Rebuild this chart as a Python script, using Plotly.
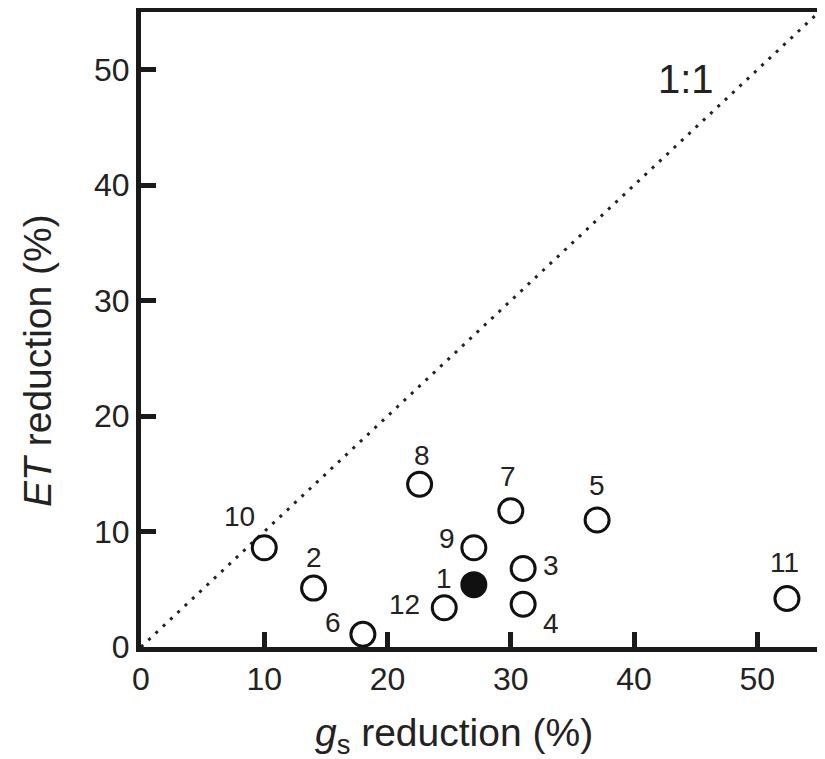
import plotly.graph_objects as go

# ---- data ----
site_ids = ["1", "2", "3", "4", "5", "6", "7", "8", "9", "10", "11", "12"]
gs_reduction = [27.0, 14.0, 31.0, 31.0, 37.0, 18.0, 30.0, 22.6, 27.0, 10.0, 52.4, 24.6]
et_reduction = [5.4, 5.1, 6.8, 3.7, 11.0, 1.1, 11.8, 14.1, 8.6, 8.6, 4.2, 3.4]
filled_sites = ["1"]
one_to_one = [0, 55]
x_ticks = [0, 10, 20, 30, 40, 50]
y_ticks = [0, 10, 20, 30, 40, 50]
x_title = "<i>g</i><sub>s</sub> reduction (%)"
y_title = "<i>ET</i> reduction (%)"

# label offsets in pixels (styling, not data)
label_shift = {
    "1": (-30, 6), "2": (0, 31), "3": (28, 3), "4": (28, -19),
    "5": (0, 35), "6": (-30, 12), "7": (-3, 34), "8": (2, 29),
    "9": (-27, 9), "10": (-25, 31), "11": (-2, 36), "12": (-40, 3),
}

FONT = "Liberation Sans, Arial, sans-serif"
INK = "#222"

fig = go.Figure()

fig.add_trace(go.Scatter(
    x=one_to_one, y=one_to_one, mode="lines",
    line=dict(color=INK, width=3, dash="3px,7px"),
    hoverinfo="skip", showlegend=False,
))

fills = ["#111" if s in filled_sites else "white" for s in site_ids]
fig.add_trace(go.Scatter(
    x=gs_reduction, y=et_reduction, mode="markers",
    marker=dict(size=24, color=fills, line=dict(color="#111", width=3)),
    showlegend=False, cliponaxis=False,
))

for s, gx, ey in zip(site_ids, gs_reduction, et_reduction):
    dx, dy = label_shift[s]
    fig.add_annotation(x=gx, y=ey, text=s, showarrow=False,
                       xshift=dx, yshift=dy,
                       font=dict(family=FONT, size=28, color=INK))

fig.add_annotation(x=44.2, y=49.2, text="1:1", showarrow=False,
                   xref="x", yref="y",
                   font=dict(family=FONT, size=40, color=INK))

# axis titles (placed as paper annotations to match the reference offsets)
fig.add_annotation(x=0.4617, y=-0.1386, xref="paper", yref="paper",
                   text=x_title, showarrow=False,
                   xanchor="center", yanchor="middle",
                   font=dict(family=FONT, size=39, color=INK))
fig.add_annotation(x=-0.152, y=0.452, xref="paper", yref="paper",
                   text=y_title, showarrow=False, textangle=-90,
                   xanchor="center", yanchor="middle",
                   font=dict(family=FONT, size=39, color=INK))

axis_common = dict(
    range=[0, 55], showgrid=False, zeroline=False, automargin=False,
    showline=True, linecolor="#1a1a1a", linewidth=5, mirror=True,
    ticks="inside", ticklen=15, tickwidth=5, tickcolor="#1a1a1a",
    tickfont=dict(family=FONT, size=32, color=INK),
)

fig.update_xaxes(**axis_common, tickvals=x_ticks)
fig.update_yaxes(**axis_common, tickvals=y_ticks)

fig.update_layout(
    width=817, height=751,
    margin=dict(l=133, r=6, t=4, b=112),
    plot_bgcolor="white", paper_bgcolor="white",
)

fig.write_html("out.html")
